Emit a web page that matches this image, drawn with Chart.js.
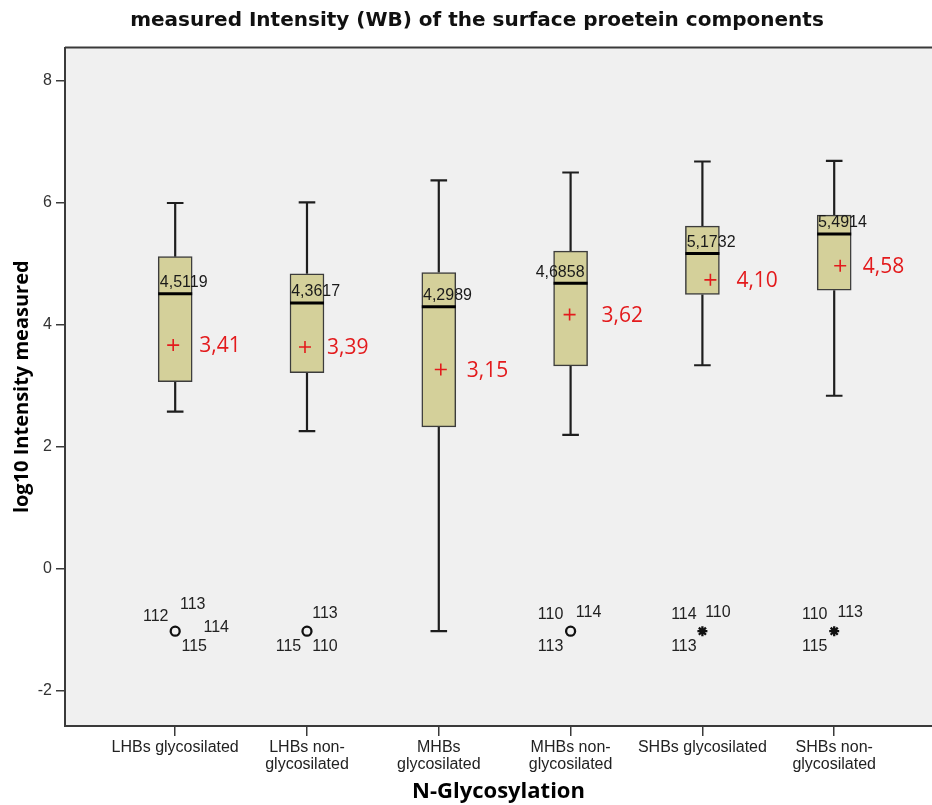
<!DOCTYPE html>
<html><head><meta charset="utf-8">
<script src="https://cdn.jsdelivr.net/npm/chart.js@4.4.1/dist/chart.umd.min.js"></script>
<style>html,body{margin:0;padding:0;background:#fff;overflow:hidden}canvas{display:block}</style>
</head><body>
<canvas id="c" width="932" height="805"></canvas>
<script>
// ---- data ----
const categories = [['LHBs glycosilated'], ['LHBs non-', 'glycosilated'], ['MHBs', 'glycosilated'], ['MHBs non-', 'glycosilated'], ['SHBs glycosilated'], ['SHBs non-', 'glycosilated']];
const whiskerHigh = [6.00, 6.01, 6.37, 6.50, 6.68, 6.69];
const quartile3 = [5.12, 4.84, 4.86, 5.21, 5.62, 5.80];
const medians = [4.5119, 4.3617, 4.2989, 4.6858, 5.1732, 5.4914];
const quartile1 = [3.07, 3.22, 2.33, 3.33, 4.50, 4.57];
const whiskerLow = [2.58, 2.26, -1.02, 2.20, 3.34, 2.84];
const meanMarks = [3.67, 3.64, 3.27, 4.17, 4.74, 4.97];
const meanLabels = ['3,41', '3,39', '3,15', '3,62', '4,10', '4,58'];
const medianLabels = ['4,5119', '4,3617', '4,2989', '4,6858', '5,1732', '5,4914'];
const outlierCategory = [0, 1, 3, 4, 5];
const outlierValues = [-1.02, -1.02, -1.02, -1.02, -1.02];
const outlierKinds = ['circle', 'circle', 'circle', 'star', 'star'];
const outlierIds = [['112', '113', '114', '115'], ['113', '115', '110'], ['110', '114', '113'], ['114', '110', '113'], ['110', '113', '115']];
const yTicks = [-2, 0, 2, 4, 6, 8];

// ---- layout (not data) ----
const X_MIN = -0.836, X_MAX = 5.742, Y_MIN = -2.574, Y_MAX = 8.549;
const CAP = 0.063, HALF = 0.129, PX_PER_CAT = 131.8;
const meanShiftPx = [-2, -2, 2, -1, 8, 6];
const meanLabelDx = [24, 20, 28, 31, 34, 28.5];
const medianLabelDx = [8.5, 8.7, 8.7, -10.5, 8.7, 8.2];
const outlierIdOffsets = [
  [[-19.5, -15], [17.5, -27], [41, -4], [19, 15]],
  [[18, -18], [-18.5, 15], [18, 15]],
  [[-20, -17], [18, -19], [-20, 15]],
  [[-18.5, -17], [15.5, -19], [-18.5, 15]],
  [[-19.5, -17], [16, -19], [-19.5, 15]]
];

const boxData = categories.map((_, i) => ({x: i, y: [quartile1[i], quartile3[i]]}));
const whiskerData = [];
categories.forEach((_, i) => {
  whiskerData.push({x: i, y: whiskerHigh[i]}, {x: i, y: quartile3[i]}, {x: i, y: null});
  whiskerData.push({x: i, y: quartile1[i]}, {x: i, y: whiskerLow[i]}, {x: i, y: null});
  whiskerData.push({x: i - CAP, y: whiskerHigh[i]}, {x: i + CAP, y: whiskerHigh[i]}, {x: i, y: null});
  whiskerData.push({x: i - CAP, y: whiskerLow[i]}, {x: i + CAP, y: whiskerLow[i]}, {x: i, y: null});
});
const medianData = [];
categories.forEach((_, i) => {
  medianData.push({x: i - HALF, y: medians[i]}, {x: i + HALF, y: medians[i]}, {x: i, y: null});
});
const meanData = meanMarks.map((v, i) => ({x: i + meanShiftPx[i] / PX_PER_CAT, y: v}));
const circleData = [], starData = [];
outlierCategory.forEach((c, k) => {
  (outlierKinds[k] === 'circle' ? circleData : starData).push({x: c, y: outlierValues[k]});
});

const framePlugin = {
  id: 'frame',
  beforeDraw(chart) {
    const {ctx, chartArea: a} = chart;
    ctx.save();
    ctx.fillStyle = '#f0f0f0';
    ctx.fillRect(a.left, a.top, a.right - a.left, a.bottom - a.top);
    ctx.strokeStyle = '#3a3a3a';
    ctx.lineWidth = 2;
    ctx.beginPath();
    ctx.moveTo(a.left, a.top);
    ctx.lineTo(a.right, a.top);
    ctx.stroke();
    ctx.restore();
  },
  afterLayout(chart) {
    if (chart.titleBlock) { chart.titleBlock.left += 11; chart.titleBlock.right += 11; }
  }
};

const labelPlugin = {
  id: 'labels',
  afterDatasetsDraw(chart) {
    const {ctx} = chart;
    const xs = chart.scales.x, ys = chart.scales.y;
    ctx.save();
    ctx.textBaseline = 'middle';
    ctx.textAlign = 'center';
    ctx.font = '16px "Liberation Sans"';
    ctx.fillStyle = '#1a1a1a';
    medianLabels.forEach((t, i) => {
      ctx.fillText(t, xs.getPixelForValue(i) + medianLabelDx[i], ys.getPixelForValue(medians[i]) - 11);
    });
    ctx.fillStyle = '#222';
    outlierCategory.forEach((c, k) => {
      const px = xs.getPixelForValue(c), py = ys.getPixelForValue(outlierValues[k]);
      outlierIds[k].forEach((id, j) => {
        const o = outlierIdOffsets[k][j];
        ctx.fillText(id, px + o[0], py + o[1]);
      });
    });
    ctx.textAlign = 'left';
    ctx.font = '21px "Open Sans"';
    ctx.fillStyle = '#e31a1c';
    meanLabels.forEach((t, i) => {
      ctx.fillText(t, xs.getPixelForValue(i) + meanLabelDx[i], ys.getPixelForValue(meanMarks[i]) + 1);
    });
    ctx.restore();
  }
};

function build() {
  new Chart(document.getElementById('c'), {
    type: 'bar',
    data: {
      datasets: [
        {type: 'bar', data: boxData, backgroundColor: '#d4d09a', borderColor: '#3c3c3c', borderWidth: 1.5, borderSkipped: false, barThickness: 34, order: 3},
        {type: 'scatter', data: whiskerData, showLine: true, spanGaps: false, pointRadius: 0, borderColor: '#1e1e1e', borderWidth: 2.2, order: 4},
        {type: 'scatter', data: medianData, showLine: true, spanGaps: false, pointRadius: 0, borderColor: '#000', borderWidth: 3, order: 2},
        {type: 'scatter', data: meanData, pointStyle: 'cross', pointRadius: 6, borderWidth: 1.6, borderColor: '#e31a1c', order: 1},
        {type: 'scatter', data: circleData, pointStyle: 'circle', pointRadius: 4.5, borderWidth: 2.3, borderColor: '#111', backgroundColor: '#f0f0f0', order: 1},
        {type: 'scatter', data: starData, pointStyle: 'star', pointRadius: 5, borderWidth: 2.3, borderColor: '#111', order: 1}
      ]
    },
    options: {
      responsive: false,
      animation: false,
      devicePixelRatio: 1,
      layout: {padding: 0, autoPadding: false},
      plugins: {
        legend: {display: false},
        tooltip: {enabled: false},
        title: {
          display: true,
          text: 'measured Intensity (WB) of the surface proetein components',
          font: {family: 'DejaVu Sans', weight: 'bold', size: 20, lineHeight: 1.2},
          color: '#111',
          padding: {top: 8.5, bottom: 15}
        }
      },
      scales: {
        x: {
          type: 'linear', min: X_MIN, max: X_MAX, offset: false,
          afterBuildTicks: s => { s.ticks = categories.map((_, i) => ({value: i})); },
          afterFit: s => { s.height = 79; s.paddingLeft = 0; s.paddingRight = 0; },
          ticks: {callback: v => categories[v], font: {family: 'Liberation Sans', size: 16, lineHeight: 1.05}, color: '#222', padding: 3, maxRotation: 0, autoSkip: false},
          grid: {offset: false, drawOnChartArea: false, drawTicks: true, tickLength: 10, color: '#3a3a3a', lineWidth: 1.5},
          border: {display: true, color: '#3a3a3a', width: 2},
          title: {display: true, text: 'N-Glycosylation', font: {family: 'Open Sans', weight: 'bold', size: 22, lineHeight: 1.2}, color: '#000', padding: {top: 0, bottom: 0}}
        },
        y: {
          type: 'linear', min: Y_MIN, max: Y_MAX,
          afterBuildTicks: s => { s.ticks = yTicks.map(v => ({value: v})); },
          afterFit: s => { s.width = 65; s.paddingTop = 0; s.paddingBottom = 0; },
          ticks: {font: {family: 'Liberation Sans', size: 16}, color: '#333', padding: 4},
          grid: {drawOnChartArea: false, drawTicks: true, tickLength: 9, color: '#3a3a3a', lineWidth: 1.5},
          border: {display: true, color: '#3a3a3a', width: 2},
          title: {display: true, text: 'log10 Intensity measured', font: {family: 'Open Sans', weight: 'bold', size: 20, lineHeight: 1.2}, color: '#000', padding: {top: 10, bottom: 0}}
        }
      }
    },
    plugins: [framePlugin, labelPlugin]
  });
}
const fontLoads = ['bold 20px "DejaVu Sans"', '16px "Liberation Sans"', 'bold 20px "Open Sans"', '20px "Open Sans"']
  .map(f => document.fonts.load(f).catch(() => null));
Promise.all(fontLoads).then(build, build);
</script>
</body></html>
